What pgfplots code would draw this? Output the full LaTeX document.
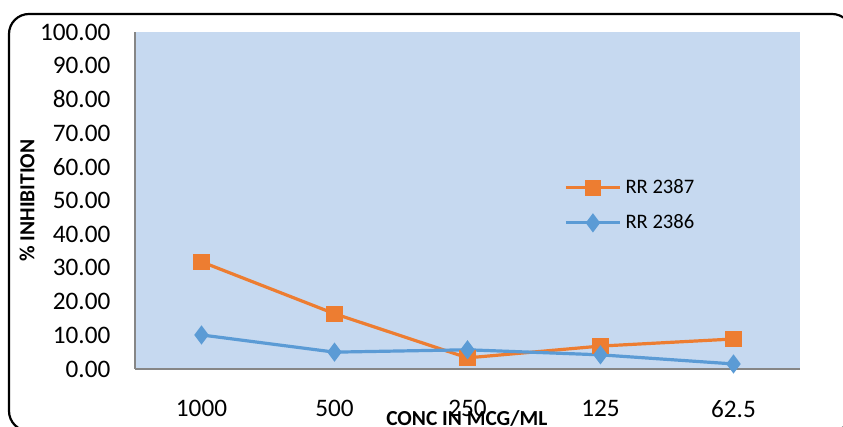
\documentclass[border=0pt]{standalone}
\usepackage{pgfplots}
\pgfplotsset{compat=1.18}
\usepackage{fontspec}
\setmainfont{Carlito}
\definecolor{bgblue}{RGB}{198,217,240}
\definecolor{xorange}{RGB}{237,125,49}
\definecolor{xblue}{RGB}{91,155,213}
\definecolor{axgray}{RGB}{134,134,134}
\begin{document}
\begin{tikzpicture}
\path[use as bounding box] (0pt,0pt) rectangle (421.5pt,213.5pt);
\clip (0pt,0pt) rectangle (421.5pt,213.5pt);
\draw[line width=1.1pt, rounded corners=10pt] (4.5pt,-2pt) rectangle (426pt,206.5pt);
\begin{axis}[
  at={(67.5pt,29pt)}, anchor=south west,
  scale only axis, width=332.5pt, height=168.5pt,
  xmin=-0.5, xmax=4.5, ymin=0, ymax=100,
  axis background/.style={fill=bgblue},
  axis x line*=bottom, axis y line*=left,
  axis line style={axgray, line width=0.8pt},
  every outer x axis line/.append style={-}, every outer y axis line/.append style={-},
  xtick={0,1,2,3,4}, xticklabels={1000,500,250,125,62.5},
  ytick={0,10,...,100},
  major tick length=0pt,
  /pgf/number format/assume math mode=true,
  yticklabel style={/pgf/number format/fixed, /pgf/number format/zerofill, /pgf/number format/precision=2,
    font=\fontsize{12.6}{14}\selectfont, xshift=-8.8pt},
  xticklabel style={font=\fontsize{12.6}{14}\selectfont, yshift=-12pt},
  ylabel={\bfseries \% INHIBITION},
  ylabel style={at={(axis description cs:-0.1624,0.5)}, anchor=center, font=\fontsize{10.7}{12}\selectfont},
  xlabel={\bfseries CONC IN MCG/ML},
  xlabel style={at={(axis description cs:0.499,-0.1454)}, anchor=center, font=\fontsize{10.7}{12}\selectfont},
  legend style={at={(axis description cs:0.645,0.576)}, anchor=north west, draw=none, fill=none,
    font=\fontsize{10.3}{12}\selectfont, row sep=5pt, inner sep=0pt},
  legend cell align=left,
  legend image code/.code={
    \draw[#1, mark=none] (0pt,0pt) -- (27pt,0pt);
    \draw[#1, only marks] plot coordinates {(13.5pt,0pt)};
  },
  clip=false,
]
\addplot[xorange, line width=1.6pt, mark=square*, mark size=3.3pt, mark options={solid}]
  coordinates {(0,31.8) (1,16.4) (2,3.3) (3,6.8) (4,8.9)};
\addlegendentry{RR 2387}
\addplot[xblue, line width=1.6pt, mark=diamond*, mark size=3.5pt, mark options={solid}]
  coordinates {(0,10.1) (1,5.0) (2,5.7) (3,4.2) (4,1.5)};
\addlegendentry{RR 2386}
\end{axis}
\end{tikzpicture}
\end{document}
